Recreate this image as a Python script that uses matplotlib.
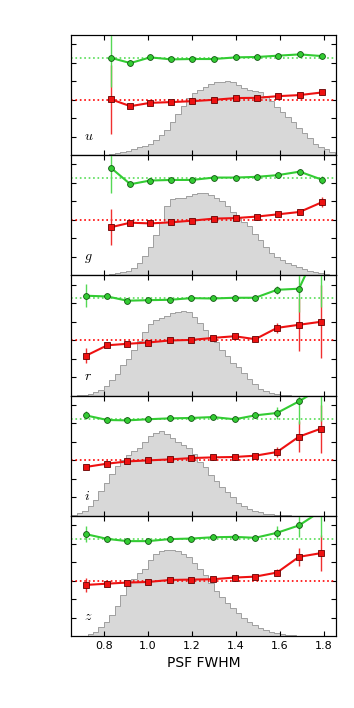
import matplotlib.pyplot as plt
import numpy as np

plt.rcParams["mathtext.fontset"] = "cm"

bands = ["u", "g", "r", "i", "z"]

x_ug = [0.83, 0.92, 1.01, 1.105, 1.2, 1.3, 1.4, 1.495, 1.59, 1.69, 1.79]
x_riz = [0.717, 0.815, 0.906, 1.0, 1.099, 1.197, 1.296, 1.394, 1.488, 1.587, 1.687, 1.786]

green_u = [0.227, 0.198, 0.229, 0.218, 0.220, 0.220, 0.229, 0.231, 0.238, 0.245, 0.236]
green_err_u = [0.157, 0.014, 0.005, 0.005, 0.005, 0.005, 0.005, 0.005, 0.005, 0.006, 0.006]
red_u = [0.003, -0.035, -0.017, -0.013, -0.008, -0.0005, 0.009, 0.010, 0.019, 0.025, 0.039]
red_err_u = [0.186, 0.006, 0.005, 0.005, 0.005, 0.005, 0.005, 0.005, 0.005, 0.006, 0.006]

green_g = [0.283, 0.193, 0.213, 0.216, 0.216, 0.229, 0.229, 0.233, 0.242, 0.261, 0.218]
green_err_g = [0.137, 0.010, 0.005, 0.005, 0.005, 0.005, 0.005, 0.005, 0.008, 0.014, 0.022]
red_g = [-0.040, -0.015, -0.019, -0.013, -0.004, 0.007, 0.010, 0.018, 0.030, 0.043, 0.095]
red_err_g = [0.097, 0.006, 0.005, 0.005, 0.005, 0.005, 0.005, 0.005, 0.006, 0.008, 0.027]

green_r = [0.240, 0.236, 0.213, 0.216, 0.218, 0.227, 0.225, 0.229, 0.229, 0.272, 0.278, 0.53]
green_err_r = [0.063, 0.006, 0.005, 0.005, 0.005, 0.005, 0.005, 0.005, 0.006, 0.022, 0.126, 0.35]
red_r = [-0.085, -0.028, -0.020, -0.013, -0.002, 0.001, 0.012, 0.021, 0.005, 0.066, 0.083, 0.099]
red_err_r = [0.040, 0.006, 0.005, 0.005, 0.005, 0.005, 0.005, 0.006, 0.006, 0.027, 0.144, 0.197]

green_i = [0.243, 0.218, 0.216, 0.222, 0.227, 0.229, 0.234, 0.222, 0.243, 0.256, 0.319, 0.39]
green_err_i = [0.022, 0.005, 0.005, 0.005, 0.005, 0.005, 0.005, 0.005, 0.014, 0.033, 0.123, 0.18]
red_i = [-0.036, -0.018, -0.006, -0.0005, 0.005, 0.012, 0.016, 0.018, 0.025, 0.045, 0.128, 0.171]
red_err_i = [0.006, 0.005, 0.005, 0.005, 0.005, 0.005, 0.005, 0.005, 0.006, 0.025, 0.083, 0.13]

green_z = [0.251, 0.225, 0.213, 0.213, 0.224, 0.227, 0.234, 0.236, 0.231, 0.258, 0.298, 0.375]
green_err_z = [0.045, 0.005, 0.005, 0.005, 0.005, 0.005, 0.005, 0.005, 0.005, 0.036, 0.06, 0.137]
red_z = [-0.024, -0.017, -0.011, -0.008, 0.003, 0.005, 0.007, 0.016, 0.021, 0.043, 0.128, 0.148]
red_err_z = [0.036, 0.005, 0.005, 0.005, 0.005, 0.005, 0.005, 0.005, 0.006, 0.018, 0.047, 0.099]

# PSF FWHM distribution per band (fraction of panel height), bins of 0.025
hist_edges = np.linspace(0.65, 1.85, 49)
hist_u = [0, 0, 0, 0, 0, 0, 0.003, 0.008, 0.017, 0.025, 0.036, 0.05, 0.067, 0.078, 0.097, 0.125,
          0.167, 0.208, 0.278, 0.339, 0.411, 0.472, 0.514, 0.542, 0.564, 0.589, 0.606, 0.606, 0.619,
          0.611, 0.583, 0.556, 0.542, 0.533, 0.522, 0.494, 0.45, 0.403, 0.361, 0.319, 0.272, 0.228,
          0.181, 0.139, 0.097, 0.069, 0.05, 0.028]
hist_g = [0, 0, 0, 0, 0, 0, 0.003, 0.008, 0.017, 0.028, 0.039, 0.064, 0.103, 0.161, 0.236, 0.333,
          0.444, 0.578, 0.633, 0.644, 0.647, 0.661, 0.675, 0.686, 0.683, 0.667, 0.644, 0.617, 0.578,
          0.528, 0.481, 0.444, 0.408, 0.347, 0.292, 0.236, 0.186, 0.153, 0.128, 0.106, 0.083, 0.069,
          0.056, 0.039, 0.028, 0.017, 0.011, 0.006]
hist_r = [0, 0.003, 0.008, 0.017, 0.031, 0.047, 0.081, 0.128, 0.183, 0.253, 0.308, 0.378, 0.453,
          0.525, 0.594, 0.628, 0.642, 0.658, 0.683, 0.697, 0.703, 0.697, 0.656, 0.6, 0.544, 0.489,
          0.442, 0.378, 0.331, 0.275, 0.239, 0.189, 0.142, 0.1, 0.058, 0.036, 0.019, 0.011, 0.006,
          0.003, 0, 0, 0, 0, 0, 0, 0, 0]
hist_i = [0.008, 0.022, 0.044, 0.081, 0.128, 0.203, 0.275, 0.35, 0.414, 0.464, 0.503, 0.539, 0.564,
          0.614, 0.661, 0.686, 0.703, 0.683, 0.65, 0.614, 0.586, 0.564, 0.517, 0.447, 0.406, 0.336,
          0.286, 0.239, 0.197, 0.156, 0.108, 0.078, 0.058, 0.042, 0.028, 0.019, 0.014, 0.008, 0.006,
          0.003, 0, 0, 0, 0, 0, 0, 0, 0]
hist_z = [0, 0, 0.003, 0.014, 0.036, 0.072, 0.114, 0.175, 0.25, 0.342, 0.417, 0.478, 0.522, 0.556,
          0.633, 0.683, 0.711, 0.719, 0.719, 0.708, 0.683, 0.656, 0.611, 0.556, 0.508, 0.444, 0.378,
          0.322, 0.272, 0.231, 0.189, 0.153, 0.117, 0.089, 0.064, 0.05, 0.033, 0.022, 0.014, 0.011,
          0.006, 0.003, 0.003, 0, 0, 0, 0, 0]

green_ref = 0.225
red_ref = 0.0

panels = [
    (x_ug, green_u, green_err_u, red_u, red_err_u, hist_u),
    (x_ug, green_g, green_err_g, red_g, red_err_g, hist_g),
    (x_riz, green_r, green_err_r, red_r, red_err_r, hist_r),
    (x_riz, green_i, green_err_i, red_i, red_err_i, hist_i),
    (x_riz, green_z, green_err_z, red_z, red_err_z, hist_z),
]

fig, axes = plt.subplots(5, 1, sharex=True, figsize=(3.54, 7.08), dpi=100)
fig.subplots_adjust(left=0.2006, right=0.949, bottom=0.1017, top=0.9506, hspace=0)

for ax, band, (x, g, ge, r, re, h) in zip(axes, bands, panels):
    ax.stairs(h, hist_edges, fill=True, color="#d8d8d8")
    ax.stairs(h, hist_edges, color="#a0a0a0", lw=0.7)
    ax.set_ylim(0, 1)
    ax.set_yticks([])
    ax.set_xlim(0.65, 1.855)
    ax.set_xticks([0.8, 1.0, 1.2, 1.4, 1.6, 1.8])
    ax.tick_params(axis="x", direction="in", top=True, bottom=True, length=3.5, labelsize=8)

    ax2 = ax.twinx()
    ax2.axhline(red_ref, color="red", ls=":", lw=1.2)
    ax2.axhline(green_ref, color="#55dd55", ls=":", lw=1.2)
    ax2.errorbar(x, r, yerr=re, color="#ee1111", lw=1.5, marker="s", ms=4.5,
                 mec="#660000", mew=0.6, elinewidth=1.0, ecolor="#f03030", capsize=0)
    ax2.errorbar(x, g, yerr=ge, color="#33cc33", lw=1.5, marker="o", ms=4.2,
                 mec="#115511", mew=0.6, elinewidth=1.0, ecolor="#55d855", capsize=0)
    ax2.set_ylim(-0.3, 0.35)
    ax2.set_yticks([-0.2, -0.1, 0.0, 0.1, 0.2, 0.3])
    ax2.tick_params(axis="y", direction="in", left=True, right=True,
                    labelleft=False, labelright=False, length=3.5)
    ax.text(0.05, 0.13, "$%s$" % band, transform=ax.transAxes, fontsize=10)

axes[-1].set_xlabel("PSF FWHM", fontsize=10)

plt.savefig("out.png", dpi=100)
